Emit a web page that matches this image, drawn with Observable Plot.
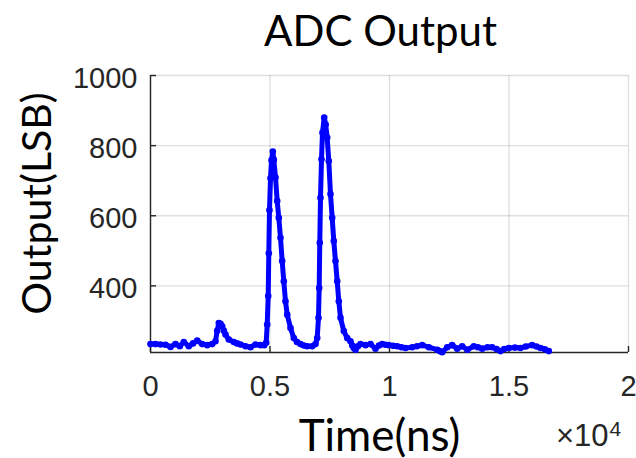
<!DOCTYPE html>
<html>
<head>
<meta charset="utf-8">
<script src="https://cdn.jsdelivr.net/npm/d3@7"></script>
<script src="https://cdn.jsdelivr.net/npm/@observablehq/plot@0.6"></script>
<style>
  html, body { margin: 0; padding: 0; background: #ffffff; }
  #chart { width: 636px; height: 458px; overflow: hidden; }
</style>
</head>
<body>
<div id="chart"></div>
<script>
// ---- data ----
const times = [
  0, 210, 418, 630, 837, 1046, 1226, 1393, 1602, 1780, 1954, 2163, 2372, 2581, 2720, 2790, 2858, 2930, 3000, 3070,
  3138, 3276, 3485, 3620, 3766, 3975, 4184, 4393, 4602, 4760, 4840, 4883, 4925, 4950, 4979, 5021, 5063, 5117, 5160, 5230,
  5301, 5368, 5439, 5510, 5577, 5648, 5720, 5858, 5996, 6130, 6276, 6420, 6556, 6766, 6904, 6975, 7029, 7058, 7083, 7113,
  7155, 7196, 7268, 7330, 7393, 7460, 7531, 7602, 7669, 7740, 7812, 7879, 7950, 8088, 8230, 8368, 8440, 8506, 8577, 8680,
  8786, 8995, 9205, 9414, 9560, 9694, 9830, 9970, 10150, 10322, 10500, 10669, 10949, 11150, 11368, 11644, 11996, 12100, 12205, 12414,
  12623, 12832, 13042, 13251, 13527, 13700, 13878, 14100, 14297, 14480, 14644, 14800, 14991, 15250, 15481, 15700, 15970, 16150, 16318, 16500,
  16665
];
const values = [
  234, 234, 233, 232, 226, 234, 228, 240, 228, 236, 244, 234, 231, 234, 242, 272, 294, 292, 285, 272,
  261, 247, 240, 236, 233, 228, 225, 233, 231, 231, 238, 290, 371, 493, 616, 707, 758, 783, 760, 709,
  642, 594, 537, 471, 413, 356, 318, 280, 251, 240, 234, 230, 228, 228, 234, 251, 309, 394, 523, 651,
  761, 837, 880, 860, 823, 756, 662, 594, 528, 471, 413, 356, 309, 271, 251, 242, 230, 223, 218, 228,
  234, 231, 234, 221, 230, 234, 232, 231, 229, 228, 225, 223, 225, 228, 231, 225, 218, 214, 211, 225,
  231, 221, 228, 218, 228, 225, 221, 225, 225, 220, 214, 220, 223, 224, 223, 227, 231, 227, 223, 219,
  214
];
const xTicks = [0, 5000, 10000, 15000, 20000];
const xTickLabels = ["0", "0.5", "1", "1.5", "2"];
const yTicks = [400, 600, 800, 1000];
const yTickLabels = ["400", "600", "800", "1000"];
const xDomain = [0, 20000];
const yDomain = [210, 1000];
const titleText = "ADC Output";
const xLabelText = "Time(ns)";
const yLabelText = "Output(LSB)";
const exponentBase = "\u00d710";
const exponentPower = "4";

const data = times.map((t, i) => ({t, v: values[i]}));

const axisColor = "#262626";
const tickFont = "'Liberation Sans', Arial, sans-serif";
const labelFont = "Lato, 'Open Sans', sans-serif";

const chart = Plot.plot({
  width: 636,
  height: 458,
  marginTop: 75,
  marginBottom: 106,
  marginLeft: 150,
  marginRight: 8,
  style: {background: "#ffffff", overflow: "visible"},
  x: {domain: xDomain, axis: null},
  y: {domain: yDomain, axis: null},
  marks: [
    Plot.gridX(xTicks, {stroke: axisColor, strokeOpacity: 0.15, strokeWidth: 1.3}),
    Plot.gridY(yTicks, {stroke: axisColor, strokeOpacity: 0.15, strokeWidth: 1.3}),
    Plot.ruleX([xDomain[0]], {stroke: axisColor, strokeWidth: 1.4}),
    Plot.ruleY([yDomain[0]], {stroke: axisColor, strokeWidth: 1.4}),
    Plot.axisX({ticks: xTicks, tickSize: -6, tickFormat: () => "", stroke: axisColor, strokeWidth: 1.4, strokeOpacity: 1, label: null}),
    Plot.axisY({ticks: yTicks, tickSize: -6, tickFormat: () => "", stroke: axisColor, strokeWidth: 1.4, strokeOpacity: 1, label: null}),
    Plot.text(xTicks, {x: d => d, text: (d, i) => xTickLabels[i], frameAnchor: "bottom", dy: 43, lineAnchor: "bottom",
      textAnchor: "middle", fontSize: 29, fontFamily: tickFont, fill: axisColor}),
    Plot.text(yTicks, {y: d => d, text: (d, i) => yTickLabels[i], frameAnchor: "left", dx: -13, dy: 12.5, lineAnchor: "bottom",
      textAnchor: "end", fontSize: 29, fontFamily: tickFont, fill: axisColor}),
    Plot.line(data, {x: "t", y: "v", stroke: "#0000ff", strokeWidth: 5, strokeLinejoin: "round", strokeLinecap: "round"}),
    Plot.dot(data, {x: "t", y: "v", r: 3.3, fill: "#0000ff", stroke: "none"}),
    Plot.text([titleText], {text: d => d, frameAnchor: "top", dx: -9, dy: -30, lineAnchor: "bottom", textAnchor: "middle",
      fontSize: 42, fontFamily: labelFont, fill: "#000000"}),
    Plot.text([xLabelText], {text: d => d, frameAnchor: "bottom", dx: -10, dy: 98, lineAnchor: "bottom", textAnchor: "middle",
      fontSize: 44, fontFamily: labelFont, fill: "#000000"}),
    Plot.text([yLabelText], {text: d => d, frameAnchor: "left", dx: -100, dy: -10.5, rotate: -90, lineAnchor: "bottom",
      textAnchor: "middle", fontSize: 41, fontFamily: labelFont, fill: "#000000"}),
    Plot.text([exponentBase], {text: d => d, frameAnchor: "bottom-right", dx: -20, dy: 93, lineAnchor: "bottom", textAnchor: "end",
      fontSize: 31, fontFamily: tickFont, fill: axisColor}),
    Plot.text([exponentPower], {text: d => d, frameAnchor: "bottom-right", dx: -19, dy: 83, lineAnchor: "bottom", textAnchor: "start",
      fontSize: 21, fontFamily: tickFont, fill: axisColor})
  ]
});
document.getElementById("chart").appendChild(chart);
</script>
</body>
</html>
